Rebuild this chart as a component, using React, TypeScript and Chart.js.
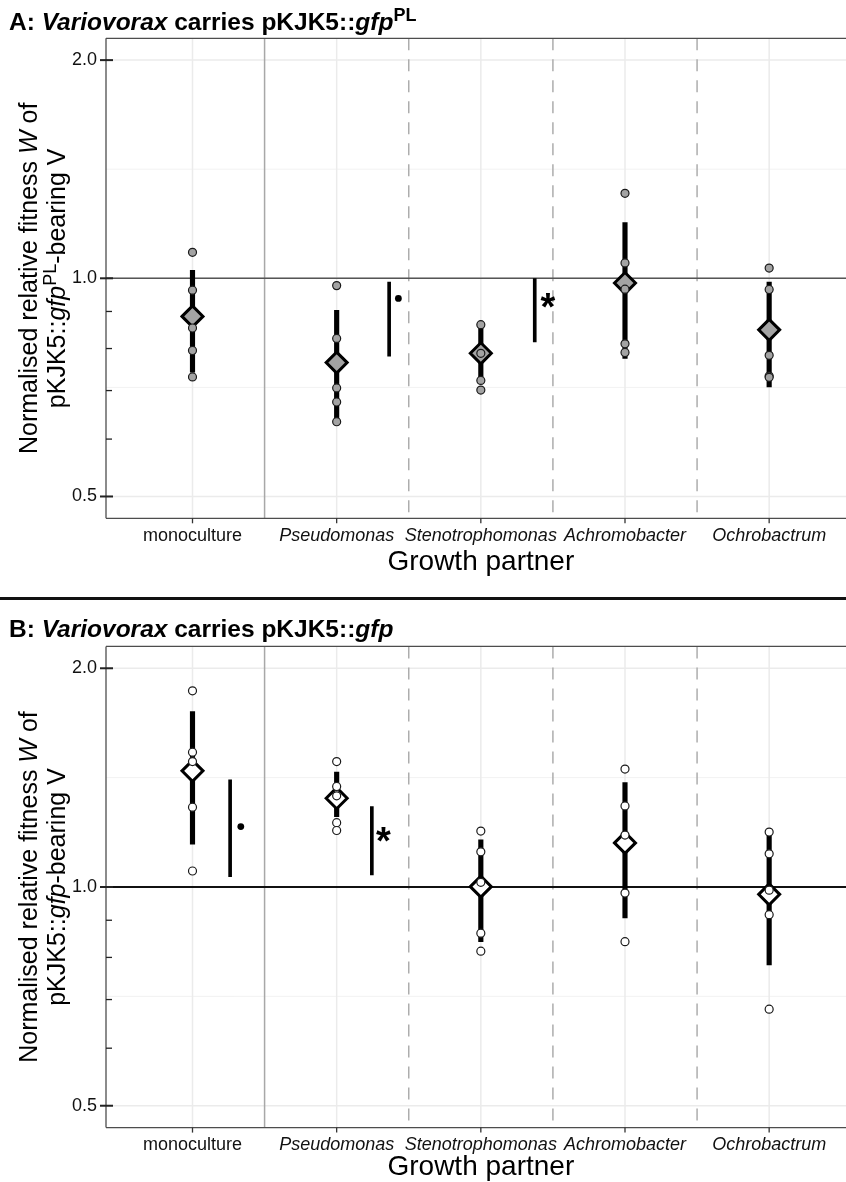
import React, { useEffect, useRef } from 'react';
import { Chart, registerables } from 'chart.js';

Chart.register(...registerables);

const FONT = '"Liberation Sans", Arial, Helvetica, sans-serif';

const categories = ['monoculture', 'Pseudomonas', 'Stenotrophomonas', 'Achromobacter', 'Ochrobactrum'];
const yTickValues = [0.5, 1, 2];
const yTickLabels = ['0.5', '1.0', '2.0'];
const yMinorTicks = [0.6, 0.7, 0.8, 0.9];
const yMinorGrid = [0.7071, 1.4142];
const separatorSolid = [0.5];
const separatorDashed = [1.5, 2.5, 3.5];

// Panel A: Variovorax carries pKJK5::gfpPL
const replicatesA = [
  [1.086, 0.963, 0.854, 0.795, 0.731],
  [0.977, 0.826, 0.706, 0.675, 0.634],
  [0.863, 0.788, 0.723, 0.701],
  [1.31, 1.05, 0.966, 0.812, 0.79],
  [1.033, 0.965, 0.783, 0.733, 0.73],
];
const meansA = [0.886, 0.765, 0.788, 0.985, 0.849];
const lowerA = [0.742, 0.64, 0.731, 0.775, 0.708];
const upperA = [1.026, 0.903, 0.853, 1.194, 0.988];
const sigXA = [1.364, 2.374];
const sigLowA = [0.781, 0.817];
const sigHighA = [0.988, 0.999];
const dotXA = [1.428];
const dotYA = [0.938];
const starXA = [2.465];
const starYA = [0.938];

// Panel B: Variovorax carries pKJK5::gfp
const replicatesB = [
  [1.862, 1.533, 1.488, 1.288, 1.052],
  [1.488, 1.375, 1.335, 1.226, 1.196],
  [1.194, 1.118, 1.015, 0.864, 0.816],
  [1.453, 1.293, 1.179, 0.981, 0.841],
  [1.19, 1.111, 0.99, 0.916, 0.679],
];
const meansB = [1.445, 1.325, 1.001, 1.15, 0.977];
const lowerB = [1.145, 1.25, 0.841, 0.907, 0.781];
const upperB = [1.744, 1.439, 1.161, 1.392, 1.179];
const sigXB = [0.261, 1.244];
const sigLowB = [1.033, 1.039];
const sigHighB = [1.404, 1.29];
const dotXB = [0.335];
const dotYB = [1.211];
const starXB = [1.325];
const starYB = [1.186];

type Run = { t: string; i?: boolean; sup?: boolean };

function runFont(r: Run, size: number, bold: boolean) {
  const s = r.sup ? Math.round(size * 0.72) : size;
  return `${r.i ? 'italic ' : ''}${bold ? 'bold ' : ''}${s}px ${FONT}`;
}

function drawRuns(ctx: CanvasRenderingContext2D, runs: Run[], x: number, y: number, size: number, bold: boolean, align: 'left' | 'center') {
  let total = 0;
  const widths = runs.map((r) => {
    ctx.font = runFont(r, size, bold);
    const w = ctx.measureText(r.t).width;
    total += w;
    return w;
  });
  let cx = align === 'center' ? x - total / 2 : x;
  ctx.textAlign = 'left';
  ctx.textBaseline = 'alphabetic';
  runs.forEach((r, k) => {
    ctx.font = runFont(r, size, bold);
    ctx.fillText(r.t, cx, r.sup ? y - size * 0.36 : y);
    cx += widths[k];
  });
}

interface PanelProps {
  top: number;
  height: number;
  padTop: number;
  xAxisHeight: number;
  title: Run[];
  titleBaseline: number;
  yTitle: Run[][];
  xTitleBaseline: number;
  replicates: number[][];
  means: number[];
  lower: number[];
  upper: number[];
  sigX: number[];
  sigLow: number[];
  sigHigh: number[];
  dotX: number[];
  dotY: number[];
  starX: number[];
  starY: number[];
  fill: string;
  refColor: string;
  refWidth: number;
}

function Panel(p: PanelProps) {
  const ref = useRef<HTMLCanvasElement | null>(null);
  useEffect(() => {
    const canvas = ref.current;
    if (!canvas) return;

    const points: { x: number; y: number }[] = [];
    p.replicates.forEach((vals, i) => vals.forEach((v) => points.push({ x: i, y: v })));
    const meanPts = p.means.map((v, i) => ({ x: i, y: v }));
    const errData = p.lower.map((lo, i) => ({ x: i, y: [lo, p.upper[i]] }));
    const sigData = p.sigX.map((sx, i) => ({ x: sx, y: [p.sigLow[i], p.sigHigh[i]] }));
    const dotPts = p.dotX.map((dx, i) => ({ x: dx, y: p.dotY[i] }));

    const decor = {
      id: 'decor',
      beforeDatasetsDraw(chart: any) {
        const { ctx, chartArea: a } = chart;
        const xs = chart.scales.x;
        const ys = chart.scales.y;
        const seg = (x1: number, y1: number, x2: number, y2: number) => {
          ctx.beginPath();
          ctx.moveTo(x1, y1);
          ctx.lineTo(x2, y2);
          ctx.stroke();
        };
        ctx.save();
        // minor horizontal grid
        ctx.strokeStyle = '#f2f2f2';
        ctx.lineWidth = 1;
        yMinorGrid.forEach((v) => {
          const py = ys.getPixelForValue(v);
          seg(a.left, py, a.right, py);
        });
        // major grid
        ctx.strokeStyle = '#ebebeb';
        ctx.lineWidth = 1.5;
        yTickValues.forEach((v) => {
          const py = ys.getPixelForValue(v);
          seg(a.left, py, a.right, py);
        });
        categories.forEach((_, i) => {
          const px = xs.getPixelForValue(i);
          seg(px, a.top, px, a.bottom);
        });
        // separators
        ctx.strokeStyle = '#a8a8a8';
        ctx.lineWidth = 1.5;
        separatorSolid.forEach((v) => {
          const px = xs.getPixelForValue(v);
          seg(px, a.top, px, a.bottom);
        });
        ctx.strokeStyle = '#adadad';
        ctx.setLineDash([12, 9]);
        separatorDashed.forEach((v) => {
          const px = xs.getPixelForValue(v);
          seg(px, a.top, px, a.bottom);
        });
        ctx.setLineDash([]);
        // reference line at 1
        ctx.strokeStyle = p.refColor;
        ctx.lineWidth = p.refWidth;
        const p1 = ys.getPixelForValue(1);
        seg(a.left, p1, a.right, p1);
        // panel border (top, left, bottom)
        ctx.strokeStyle = '#4d4d4d';
        ctx.lineWidth = 1.3;
        seg(a.left, a.top, a.right, a.top);
        seg(a.left, a.top, a.left, a.bottom);
        seg(a.left, a.bottom, a.right, a.bottom);
        // y ticks
        ctx.strokeStyle = '#222';
        ctx.lineWidth = 2;
        yTickValues.forEach((v) => {
          const py = ys.getPixelForValue(v);
          seg(a.left - 6, py, a.left + 7, py);
        });
        ctx.lineWidth = 1.3;
        yMinorTicks.forEach((v) => {
          const py = ys.getPixelForValue(v);
          seg(a.left, py, a.left + 6, py);
        });
        // x ticks
        ctx.strokeStyle = '#333';
        ctx.lineWidth = 1.3;
        categories.forEach((_, i) => {
          const px = xs.getPixelForValue(i);
          seg(px, a.bottom, px, a.bottom + 5);
        });
        ctx.restore();
      },
      afterDatasetsDraw(chart: any) {
        const { ctx, chartArea: a } = chart;
        const xs = chart.scales.x;
        const ys = chart.scales.y;
        ctx.save();
        ctx.fillStyle = '#000';
        // asterisks
        const starSize = 38;
        ctx.font = `bold ${starSize}px ${FONT}`;
        ctx.textAlign = 'center';
        ctx.textBaseline = 'alphabetic';
        p.starX.forEach((sx, i) => {
          ctx.fillText('*', xs.getPixelForValue(sx), ys.getPixelForValue(p.starY[i]) + starSize * 0.56);
        });
        // panel title
        drawRuns(ctx, p.title, 9, p.titleBaseline, 24.5, true, 'left');
        // x title
        const xc = (a.left + xs.getPixelForValue(4.6)) / 2;
        drawRuns(ctx, [{ t: 'Growth partner' }], xc, p.xTitleBaseline, 28, false, 'center');
        // y title (rotated)
        const yc = (a.top + a.bottom) / 2;
        const baselines = [37, 65];
        p.yTitle.forEach((line, k) => {
          ctx.save();
          ctx.translate(baselines[k], yc);
          ctx.rotate(-Math.PI / 2);
          drawRuns(ctx, line, 0, 0, 25, false, 'center');
          ctx.restore();
        });
        ctx.restore();
      },
    };

    const chart = new Chart(canvas, {
      type: 'scatter',
      data: {
        datasets: [
          {
            type: 'scatter',
            data: points,
            pointRadius: 4,
            pointBackgroundColor: p.fill,
            pointBorderColor: '#1a1a1a',
            pointBorderWidth: 1.2,
            order: 0,
          },
          {
            type: 'scatter',
            data: meanPts,
            pointStyle: 'rectRot',
            pointRadius: 10.5,
            pointBackgroundColor: p.fill,
            pointBorderColor: '#000',
            pointBorderWidth: 3,
            order: 1,
          },
          {
            type: 'bar',
            data: errData,
            backgroundColor: '#000',
            borderWidth: 0,
            barThickness: 4.5,
            grouped: false,
            order: 2,
          },
          {
            type: 'bar',
            data: sigData,
            backgroundColor: '#000',
            borderWidth: 0,
            barThickness: 3,
            grouped: false,
            order: 3,
          },
          {
            type: 'scatter',
            data: dotPts,
            pointRadius: 3.4,
            pointBackgroundColor: '#000',
            pointBorderWidth: 0,
            order: 3,
          },
        ] as any,
      },
      options: {
        animation: false,
        responsive: false,
        maintainAspectRatio: false,
        events: [],
        layout: { autoPadding: false, padding: { top: p.padTop, left: 0, right: 0, bottom: 0 } },
        plugins: { legend: { display: false }, tooltip: { enabled: false } },
        scales: {
          x: {
            type: 'linear',
            min: -0.6,
            max: 4.533,
            offset: false,
            grid: { display: false, drawTicks: false },
            border: { display: false },
            afterBuildTicks: (s: any) => {
              s.ticks = categories.map((_, i) => ({ value: i }));
            },
            afterFit: (s: any) => {
              s.height = p.xAxisHeight;
            },
            ticks: {
              autoSkip: false,
              maxRotation: 0,
              minRotation: 0,
              padding: 7,
              color: '#111',
              callback: (_v: any, i: number) => categories[i],
              font: (c: any) => ({ family: FONT, size: 18, style: c.index === 0 ? 'normal' : 'italic' }),
            },
          },
          y: {
            type: 'logarithmic',
            min: Math.pow(2, -1.1),
            max: Math.pow(2, 1.1),
            grid: { display: false, drawTicks: false },
            border: { display: false },
            afterBuildTicks: (s: any) => {
              s.ticks = yTickValues.map((v) => ({ value: v }));
            },
            afterFit: (s: any) => {
              s.width = 106;
            },
            ticks: {
              autoSkip: false,
              padding: 9,
              color: '#111',
              font: { family: FONT, size: 18 },
              callback: (_v: any, i: number) => yTickLabels[i],
            },
          },
        },
      } as any,
      plugins: [decor],
    });
    return () => chart.destroy();
  }, []);

  return (
    <canvas
      ref={ref}
      width={846}
      height={p.height}
      style={{ position: 'absolute', left: 0, top: p.top, width: 846, height: p.height, display: 'block' }}
    />
  );
}

export default function App() {
  useEffect(() => {
    document.body.style.margin = '0';
  }, []);
  return (
    <div style={{ position: 'absolute', left: 0, top: 0, width: 846, height: 1182, background: '#fff', overflow: 'hidden' }}>
      <Panel
        top={0}
        height={597}
        padTop={38.3}
        xAxisHeight={597 - 518.3}
        title={[{ t: 'A: ' }, { t: 'Variovorax', i: true }, { t: ' carries pKJK5::' }, { t: 'gfp', i: true }, { t: 'PL', sup: true }]}
        titleBaseline={30}
        yTitle={[
          [{ t: 'Normalised relative fitness ' }, { t: 'W', i: true }, { t: ' of' }],
          [{ t: 'pKJK5::' }, { t: 'gfp', i: true }, { t: 'PL', sup: true }, { t: '-bearing V' }],
        ]}
        xTitleBaseline={570}
        replicates={replicatesA}
        means={meansA}
        lower={lowerA}
        upper={upperA}
        sigX={sigXA}
        sigLow={sigLowA}
        sigHigh={sigHighA}
        dotX={dotXA}
        dotY={dotYA}
        starX={starXA}
        starY={starYA}
        fill="#a3a3a3"
        refColor="#555"
        refWidth={1.6}
      />
      <div style={{ position: 'absolute', left: 0, top: 597, width: 846, height: 3, background: '#111' }} />
      <Panel
        top={600}
        height={582}
        padTop={46.4}
        xAxisHeight={582 - 527.6}
        title={[{ t: 'B: ' }, { t: 'Variovorax', i: true }, { t: ' carries pKJK5::' }, { t: 'gfp', i: true }]}
        titleBaseline={37}
        yTitle={[
          [{ t: 'Normalised relative fitness ' }, { t: 'W', i: true }, { t: ' of' }],
          [{ t: 'pKJK5::' }, { t: 'gfp', i: true }, { t: '-bearing V' }],
        ]}
        xTitleBaseline={575}
        replicates={replicatesB}
        means={meansB}
        lower={lowerB}
        upper={upperB}
        sigX={sigXB}
        sigLow={sigLowB}
        sigHigh={sigHighB}
        dotX={dotXB}
        dotY={dotYB}
        starX={starXB}
        starY={starYB}
        fill="#ffffff"
        refColor="#111"
        refWidth={2}
      />
    </div>
  );
}
